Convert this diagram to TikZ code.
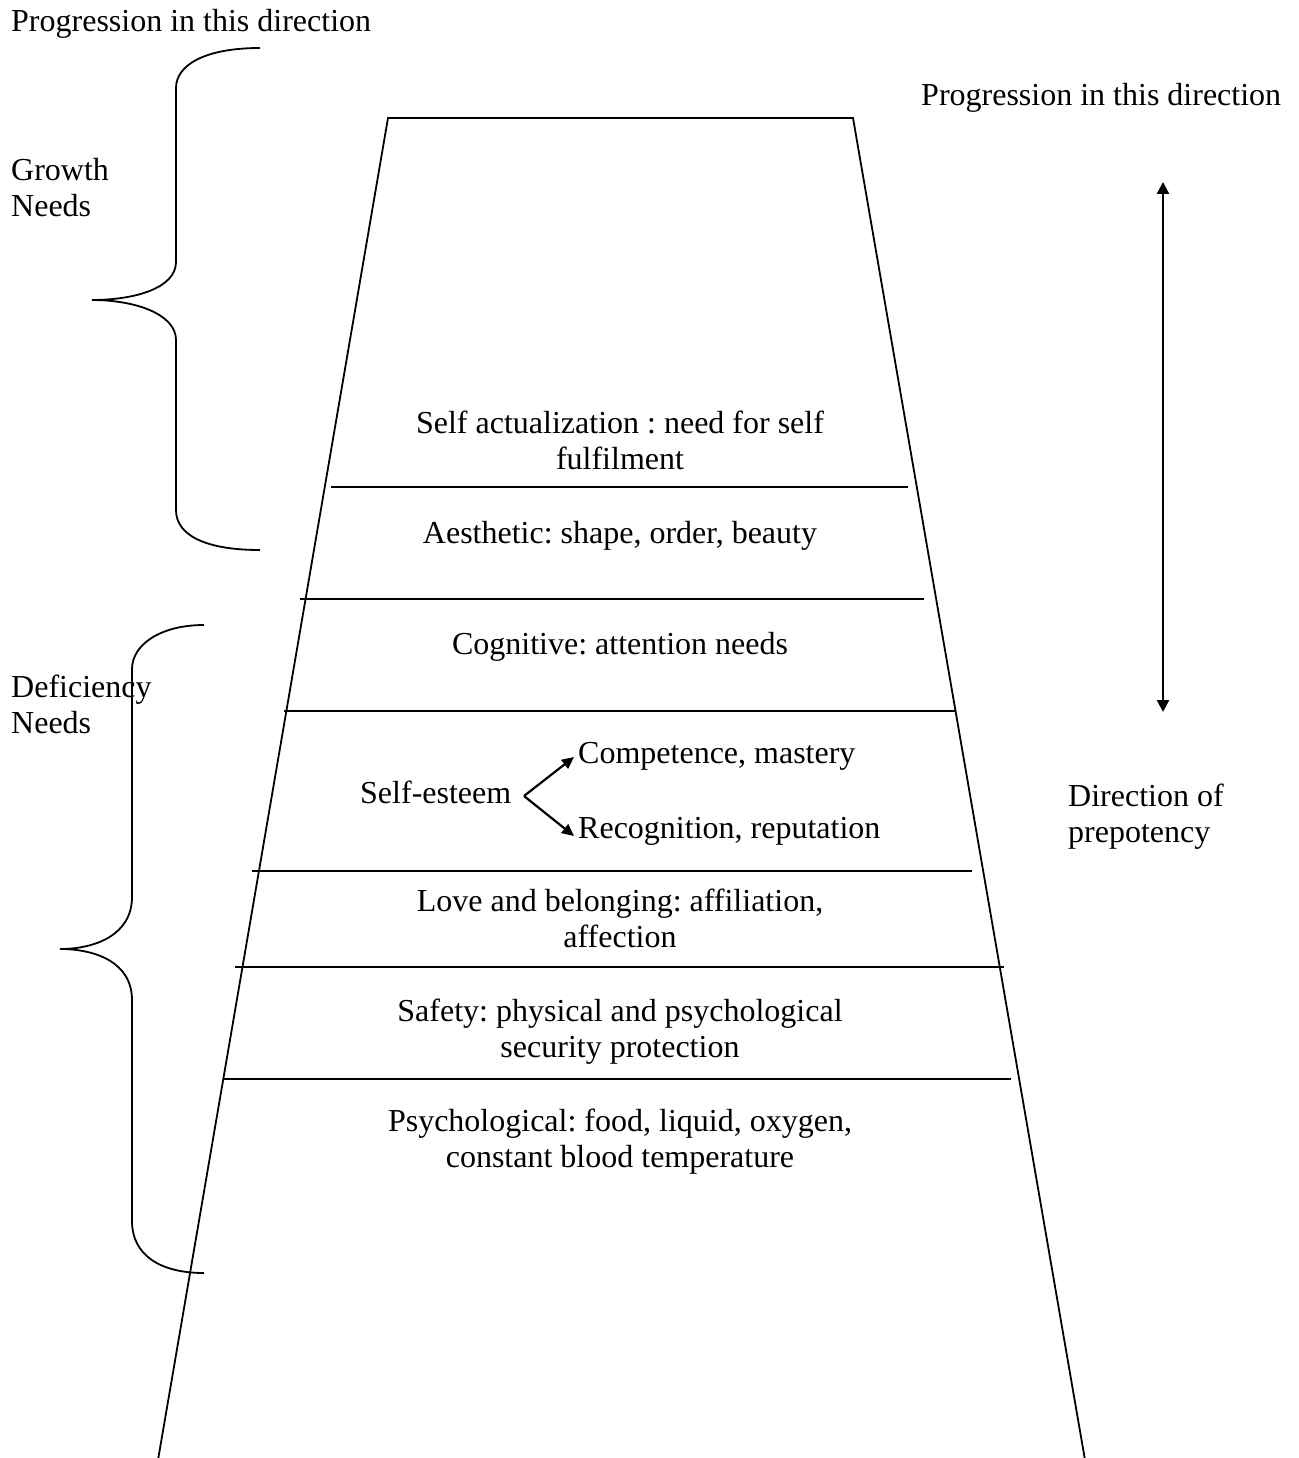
\documentclass[tikz,border=0pt]{standalone}
\usepackage{fontspec}
\setmainfont{Liberation Serif}
\usetikzlibrary{arrows.meta}
\begin{document}
\frenchspacing
\begin{tikzpicture}[x=1pt,y=-1pt,
  lbl/.style={inner sep=0pt, font=\fontsize{32}{36}\selectfont, align=center},
  lbll/.style={lbl, align=left},
  edgeline/.style={line width=1.8pt},
  tier/.style={line width=2pt},
  brace/.style={line width=1.8pt},
  arr/.style={line width=2.2pt, -{Triangle[length=12pt,width=11pt]}},
  dblarr/.style={line width=2.4pt, {Triangle[length=12pt,width=12pt]}-{Triangle[length=12pt,width=12pt]}}]
\useasboundingbox (0,0) rectangle (1298,1458);
\fill[white] (0,0) rectangle (1298,1458);

% trapezoid
\draw[edgeline] (158,1460) -- (388,118) -- (853,118) -- (1085,1460);

% tier lines
\draw[tier] (331,487) -- (908,487);
\draw[tier] (300,599) -- (924,599);
\draw[tier] (284,711) -- (956,711);
\draw[tier] (252,871) -- (972,871);
\draw[tier] (235,967) -- (1004,967);
\draw[tier] (224,1079) -- (1011,1079);

% growth brace
\draw[brace] (260,48) .. controls (205,48) and (176,65) .. (176,88) -- (176,262)
  .. controls (176,288) and (135,300) .. (92,300)
  .. controls (135,300) and (176,314) .. (176,340) -- (176,510)
  .. controls (176,535) and (205,550) .. (260,550);

% deficiency brace
\draw[brace] (204,625) .. controls (160,625) and (132,645) .. (132,669) -- (132,897)
  .. controls (132,935) and (95,949) .. (60,949)
  .. controls (95,949) and (132,962) .. (132,1000) -- (132,1221)
  .. controls (132,1255) and (160,1273) .. (204,1273);

% direction arrow
\coordinate (up) at (1163,182);
\coordinate (dn) at (1163,712);
\draw[dblarr] (up) -- (dn);

% texts
\node[lbl, anchor=base west] (prog1) at (11,32) {Progression in this direction};
\node[lbl, anchor=base west] (prog2) at (921,106) {Progression in this direction};
\node[lbll, anchor=north west] (growth) at (11,158) {Growth\\Needs};
\node[lbll, anchor=north west] (defic) at (11,675) {Deficiency\\Needs};
\node[lbll, anchor=north west] (prep) at (1068,784) {Direction of\\prepotency};

\node[lbl, anchor=north] (self) at (620,411) {Self actualization : need for self\\fulfilment};
\node[lbl, anchor=base] (aes) at (620,543) {Aesthetic: shape, order, beauty};
\node[lbl, anchor=base] (cog) at (620,654) {Cognitive: attention needs};
\node[lbl, anchor=base west] (se) at (360,803) {Self-esteem};
\node[lbl, anchor=base west] (comp) at (578,763) {Competence, mastery};
\node[lbl, anchor=base west] (rec) at (578,838) {Recognition, reputation};
\node[lbl, anchor=north] (love) at (620,889) {Love and belonging: affiliation,\\affection};
\node[lbl, anchor=north] (safe) at (620,999) {Safety: physical and psychological\\security protection};
\node[lbl, anchor=north] (psy) at (620,1109) {Psychological: food, liquid, oxygen,\\constant blood temperature};

% self-esteem arrows
\coordinate (v) at (524,796);
\coordinate (t1) at (574,757);
\coordinate (t2) at (574,836);
\draw[arr] (v) -- (t1);
\draw[arr] (v) -- (t2);
\end{tikzpicture}
\end{document}
